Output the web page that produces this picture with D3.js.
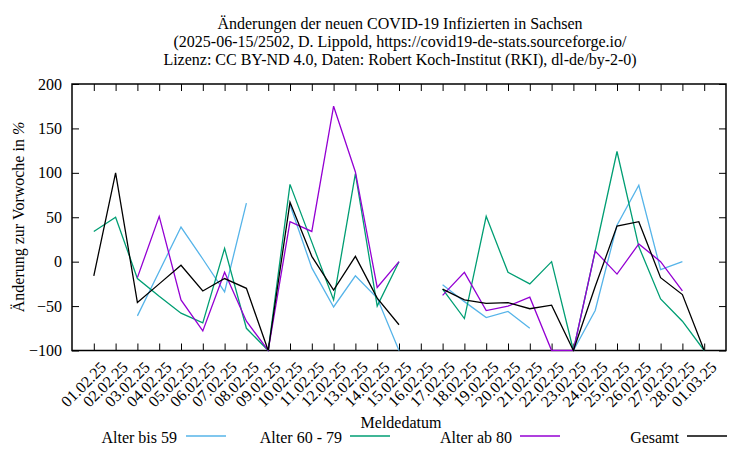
<!DOCTYPE html>
<html>
<head>
<meta charset="utf-8">
<script src="https://cdn.jsdelivr.net/npm/d3@7"></script>
<style>
  html, body { margin: 0; padding: 0; background: #fff; }
  svg { display: block; }
  text { font-family: "Liberation Serif", "DejaVu Serif", serif; fill: #000; }
</style>
</head>
<body>
<svg id="chart" width="750" height="450"></svg>
<script>
const dates = ["01.02.25","02.02.25","03.02.25","04.02.25","05.02.25","06.02.25","07.02.25","08.02.25","09.02.25","10.02.25","11.02.25","12.02.25","13.02.25","14.02.25","15.02.25","16.02.25","17.02.25","18.02.25","19.02.25","20.02.25","21.02.25","22.02.25","23.02.25","24.02.25","25.02.25","26.02.25","27.02.25","28.02.25","01.03.25"];
const alterBis59 = [null, null, -61, -11, 39, 3, -34, 66, null, 64, -7, -51, -16, -41, -100, null, -26, -45, -63, -56, -75, null, -100, -55, 41, 86, -9, 0, null];
const alter60bis79 = [34, 50, -19, -39, -58, -69, 15, -75, -100, 87, 22, -43, 99, -50, 0, null, -31, -64, 51, -12, -25, 0, -100, 12, 124, 17, -42, -67, -100];
const alterAb80 = [null, null, -18, 51, -43, -78, -12, -67, -100, 45, 34, 175, 101, -29, 0, null, -38, -12, -55, -50, -40, -100, -100, 12, -14, 20, 0, -33, null];
const gesamt = [-16, 100, -46, -25, -4, -33, -19, -30, -100, 67, 6, -32, 6, -41, -71, null, -31, -43, -47, -46, -53, -49, -100, -28, 40, 45, -18, -37, -100];
const yTicks = [-100, -50, 0, 50, 100, 150, 200];
const seriesNames = ["Alter bis 59", "Alter 60 - 79", "Alter ab 80", "Gesamt"];
const seriesColors = ["#56b4e9", "#009e73", "#9400d3", "#000000"];
const titleLines = [
  "Änderungen der neuen COVID-19 Infizierten in Sachsen",
  "(2025-06-15/2502, D. Lippold, https://covid19-de-stats.sourceforge.io/",
  "Lizenz: CC BY-ND 4.0, Daten: Robert Koch-Institut (RKI), dl-de/by-2-0)"
];

const svg = d3.select("#chart");
const L = 72, R = 726, T = 84, B = 350.5;
const x = d3.scaleLinear().domain([-1, dates.length]).range([L, R]);
const y = d3.scaleLinear().domain([-100, 200]).range([B, T]);
const fs = 16;

// title
svg.append("g").selectAll("text").data(titleLines).join("text")
  .attr("x", 400).attr("y", (d, i) => 29 + i * 18)
  .attr("text-anchor", "middle").attr("font-size", fs).text(d => d);

// axes (ticks inward, mirrored)
const axL = d3.axisLeft(y).tickValues(yTicks).tickSize(-7).tickPadding(10);
const gL = svg.append("g").attr("transform", `translate(${L},0)`).call(axL);
const axR = d3.axisRight(y).tickValues(yTicks).tickSize(-7).tickFormat("");
const gR = svg.append("g").attr("transform", `translate(${R},0)`).call(axR);
const idx = d3.range(dates.length);
const axB = d3.axisBottom(x).tickValues(idx).tickSize(-7).tickFormat(i => dates[i]);
const gB = svg.append("g").attr("transform", `translate(0,${B})`).call(axB);
const axT = d3.axisTop(x).tickValues(idx).tickSize(-7).tickFormat("");
const gT = svg.append("g").attr("transform", `translate(0,${T})`).call(axT);
[gL, gR, gB, gT].forEach(g => {
  g.select(".domain").remove();
  g.selectAll(".tick line").attr("stroke", "#000").attr("stroke-width", 1);
});
gL.selectAll(".tick text").attr("font-size", fs).attr("font-family", "Liberation Serif").attr("fill", "#000");
gB.selectAll(".tick text")
  .attr("font-size", fs).attr("font-family", "Liberation Serif").attr("fill", "#000")
  .attr("text-anchor", "end")
  .attr("transform", "translate(5,10) rotate(-45)")
  .attr("dy", "0.7em").attr("y", 0);

// border
svg.append("rect").attr("x", L).attr("y", T).attr("width", R - L).attr("height", B - T)
  .attr("fill", "none").attr("stroke", "#000").attr("stroke-width", 1.5);

// series
const allSeries = [alterBis59, alter60bis79, alterAb80, gesamt];
const line = d3.line().defined(d => d != null).x((d, i) => x(i)).y(d => y(d));
svg.append("clipPath").attr("id", "clip").append("rect")
  .attr("x", L).attr("y", T - 1).attr("width", R - L).attr("height", B - T + 2);
svg.append("g").attr("clip-path", "url(#clip)").selectAll("path").data(allSeries).join("path")
  .attr("d", d => line(d)).attr("fill", "none")
  .attr("stroke", (d, i) => seriesColors[i]).attr("stroke-width", 1.3)
  .attr("stroke-linejoin", "miter");

// axis titles
svg.append("text").attr("x", 401).attr("y", 428).attr("text-anchor", "middle")
  .attr("font-size", fs).text("Meldedatum");
const yt = svg.append("text").attr("transform", "translate(24,217) rotate(-90)")
  .attr("text-anchor", "middle").attr("font-size", fs);
yt.append("tspan").text("Änderung zur Vorwoche in ");
yt.append("tspan").attr("font-style", "italic").text("%");

// legend
const legTextEnd = [177, 342, 512, 679];
const legLineStart = [186, 350, 520, 687];
const lg = svg.append("g").selectAll("g").data(seriesNames).join("g");
lg.append("text").attr("x", (d, i) => legTextEnd[i]).attr("y", 443)
  .attr("text-anchor", "end").attr("font-size", fs).text(d => d);
lg.append("line").attr("x1", (d, i) => legLineStart[i]).attr("x2", (d, i) => legLineStart[i] + 40)
  .attr("y1", 436).attr("y2", 436)
  .attr("stroke", (d, i) => seriesColors[i]).attr("stroke-width", 1.3);
</script>
</body>
</html>
